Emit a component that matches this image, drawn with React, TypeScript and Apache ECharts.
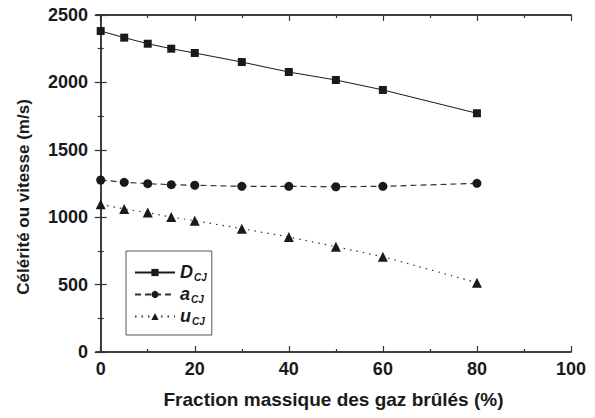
import React, { useEffect, useRef } from "react";
import * as echarts from "echarts";

const xValues = [0, 5, 10, 15, 20, 30, 40, 50, 60, 80];
const dCJ = [2381, 2332, 2287, 2250, 2218, 2151, 2077, 2018, 1944, 1771];
const aCJ = [1276, 1259, 1249, 1241, 1237, 1229, 1229, 1226, 1229, 1251];
const uCJ = [1096, 1061, 1034, 1001, 974, 915, 853, 781, 707, 514];
const xMajorTicks = [0, 20, 40, 60, 80, 100];
const xMinorTicks = [10, 30, 50, 70, 90];
const seriesNames = ["D_CJ", "a_CJ", "u_CJ"];

const FONT = "Liberation Sans";
const INK = "#1a1a1a";

export default function App() {
  const ref = useRef<HTMLDivElement>(null);
  useEffect(() => {
    if (!ref.current) return;
    const chart = echarts.init(ref.current, undefined, { renderer: "svg" });
    const pair = (ys: number[]) => xValues.map((x, i) => [x, ys[i]]);
    const lineAxis = { show: true, lineStyle: { color: "#333", width: 1.5 } };
    const xBase = {
      type: "value",
      min: -1,
      max: 100,
      gridIndex: 0,
      splitLine: { show: false },
      axisLine: lineAxis,
    };
    const option: any = {
      animation: false,
      backgroundColor: "#fff",
      grid: { left: 96, right: 24, top: 15, bottom: 66, containLabel: false },
      xAxis: [
        {
          ...xBase,
          position: "bottom",
          name: "Fraction massique des gaz brûlés (%)",
          nameLocation: "middle",
          nameGap: 38,
          nameTextStyle: { fontFamily: FONT, fontWeight: "bold", fontSize: 19, color: INK },
          axisTick: { show: true, inside: true, length: 6, customValues: xMajorTicks, lineStyle: { color: "#333", width: 1.2 } },
          axisLabel: { show: true, customValues: xMajorTicks, fontFamily: FONT, fontWeight: "bold", fontSize: 18, color: INK, margin: 8 },
        },
        {
          ...xBase,
          position: "bottom",
          axisTick: { show: true, inside: true, length: 3, customValues: xMinorTicks, lineStyle: { color: "#333", width: 1.2 } },
          axisLabel: { show: false },
        },
        {
          ...xBase,
          position: "top",
          axisTick: { show: true, inside: true, length: 6, customValues: xMajorTicks, lineStyle: { color: "#333", width: 1.2 } },
          axisLabel: { show: false },
        },
        {
          ...xBase,
          position: "top",
          axisTick: { show: true, inside: true, length: 3, customValues: xMinorTicks, lineStyle: { color: "#333", width: 1.2 } },
          axisLabel: { show: false },
        },
      ],
      yAxis: [
        {
          type: "value",
          min: 0,
          max: 2500,
          interval: 500,
          position: "left",
          name: "Célérité ou vitesse (m/s)",
          nameLocation: "middle",
          nameGap: 64,
          nameTextStyle: { fontFamily: FONT, fontWeight: "bold", fontSize: 17, color: INK, padding: [0, 27, 0, 0] },
          splitLine: { show: false },
          axisLine: lineAxis,
          axisTick: { show: true, inside: true, length: 6, lineStyle: { color: "#333", width: 1.2 } },
          minorTick: { show: true, splitNumber: 2, length: 3, lineStyle: { color: "#333", width: 1.2 } },
          axisLabel: { fontFamily: FONT, fontWeight: "bold", fontSize: 18, color: INK, margin: 8, formatter: (v: number) => String(v) },
        },
        {
          type: "value",
          min: 0,
          max: 2500,
          interval: 500,
          position: "right",
          splitLine: { show: false },
          axisLine: lineAxis,
          axisTick: { show: true, inside: true, length: 6, lineStyle: { color: "#333", width: 1.2 } },
          minorTick: { show: true, splitNumber: 2, length: 3, lineStyle: { color: "#333", width: 1.2 } },
          axisLabel: { show: false },
        },
      ],
      legend: {
        orient: "vertical",
        left: 126,
        top: 251,
        padding: [12, 5, 9, 8],
        itemGap: 3,
        itemWidth: 40,
        itemHeight: 9,
        borderColor: "#555",
        borderWidth: 1,
        backgroundColor: "#fff",
        data: seriesNames,
        formatter: (name: string) => {
          const [main, sub] = name.split("_");
          return `{i|${main}}{s|${sub}}`;
        },
        textStyle: {
          rich: {
            i: { fontFamily: FONT, fontWeight: "bold", fontStyle: "italic", fontSize: 18, color: INK, lineHeight: 19, verticalAlign: "top" },
            s: { fontFamily: FONT, fontWeight: "bold", fontStyle: "italic", fontSize: 10, color: INK, lineHeight: 19, padding: [9, 0, 0, 1], verticalAlign: "bottom" },
          },
        },
      },
      series: [
        {
          name: seriesNames[0],
          type: "line",
          data: pair(dCJ),
          symbol: "rect",
          symbolSize: 8,
          itemStyle: { color: INK },
          lineStyle: { color: INK, width: 1 },
        },
        {
          name: seriesNames[1],
          type: "line",
          data: pair(aCJ),
          symbol: "circle",
          symbolSize: 9,
          itemStyle: { color: INK },
          lineStyle: { color: "#333", width: 1.2, type: [6, 4] },
        },
        {
          name: seriesNames[2],
          type: "line",
          data: pair(uCJ),
          symbol: "triangle",
          symbolSize: 10,
          itemStyle: { color: INK },
          lineStyle: { color: "#333", width: 1.2, type: [1.5, 5] },
        },
      ],
    };
    chart.setOption(option);
    return () => chart.dispose();
  }, []);
  return <div ref={ref} style={{ width: 595, height: 418, position: "absolute", left: 0, top: 0 }} />;
}
